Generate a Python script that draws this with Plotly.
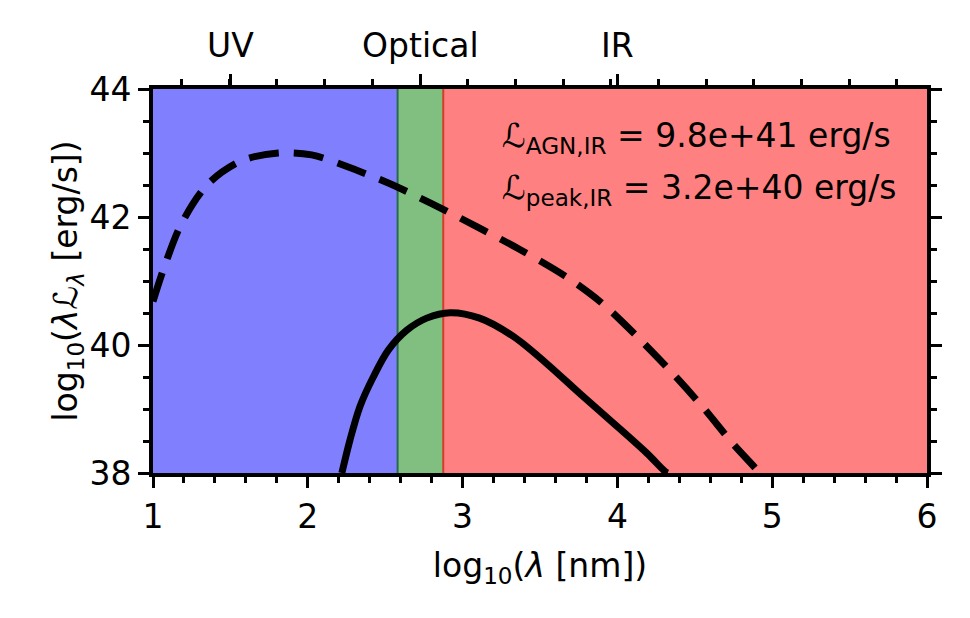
import plotly.graph_objects as go

# Region boundaries (log10 nm)
band_edges = [1.0, 2.58, 2.875, 6.0]
band_colors = ["#8080ff", "#80bf80", "#ff8080"]
edge_line_colors = ["rgb(40,105,80)", "rgb(215,60,40)"]

# Top-axis labels
top_tickvals = [1.5, 2.727, 4.0]
top_ticktext = ["UV", "Optical", "IR"]
top_minor = [1.185, 1.493, 1.801, 2.109, 2.417, 3.033, 3.341, 3.649, 3.957,
             4.265, 4.573, 4.881, 5.189, 5.497, 5.805]

# Dashed curve (total AGN SED)
dashed_x = [1.0, 1.073, 1.185, 1.357, 1.573, 1.81, 2.025, 2.24, 2.52, 2.80,
            3.091, 3.364, 3.66, 3.892, 4.12, 4.34, 4.548, 4.749, 4.90, 4.93]
dashed_y = [40.68, 41.22, 41.90, 42.52, 42.88, 43.00, 42.97, 42.80, 42.53, 42.21,
            41.85, 41.50, 41.08, 40.67, 40.15, 39.60, 39.04, 38.45, 38.05, 37.95]

# Solid curve (peak component)
solid_x = [2.22, 2.273, 2.337, 2.423, 2.52, 2.639, 2.768, 2.919, 3.11, 3.33,
           3.543, 3.758, 3.974, 4.19, 4.31, 4.325]
solid_y = [38.0, 38.52, 39.04, 39.50, 39.92, 40.23, 40.42, 40.505, 40.42, 40.13,
           39.71, 39.24, 38.78, 38.31, 38.02, 38.0]

ann_lines = ["ℒ<sub>AGN,IR</sub> = 9.8e+41 erg/s",
             "ℒ<sub>peak,IR</sub> = 3.2e+40 erg/s"]
ann_y = [43.25, 42.43]

FONT = "DejaVu Sans"
FS = 33

fig = go.Figure()

shapes = []
for i in range(3):
    shapes.append(dict(type="rect", xref="x", yref="y domain",
                       x0=band_edges[i], x1=band_edges[i + 1], y0=0, y1=1,
                       fillcolor=band_colors[i], line=dict(width=0), layer="below"))
for i, c in enumerate(edge_line_colors):
    shapes.append(dict(type="line", xref="x", yref="y domain",
                       x0=band_edges[i + 1], x1=band_edges[i + 1], y0=0, y1=1,
                       line=dict(color=c, width=2), layer="below"))

fig.add_trace(go.Scatter(x=dashed_x, y=dashed_y, mode="lines",
                         line=dict(color="black", width=7, dash="30px,15px",
                                   shape="spline", smoothing=0.9),
                         showlegend=False))
fig.add_trace(go.Scatter(x=solid_x, y=solid_y, mode="lines",
                         line=dict(color="black", width=7,
                                   shape="spline", smoothing=0.9),
                         showlegend=False))
# dummy trace for top axis
fig.add_trace(go.Scatter(x=[1, 6], y=[38, 38], mode="lines", xaxis="x2",
                         line=dict(width=0), hoverinfo="skip", showlegend=False))

annotations = []
for t, yv in zip(ann_lines, ann_y):
    annotations.append(dict(x=3.24, y=yv, xref="x", yref="y", text=t,
                            showarrow=False, xanchor="left", yanchor="middle",
                            font=dict(family=FONT, size=FS, color="black")))

fig.update_layout(
    width=970, height=618,
    margin=dict(l=145, r=51, t=81, b=153),
    paper_bgcolor="white", plot_bgcolor="white",
    shapes=shapes, annotations=annotations,
    font=dict(family=FONT, size=FS, color="black"),
    xaxis=dict(range=[1, 6], tickvals=[1, 2, 3, 4, 5, 6], ticks="outside",
               ticklen=11, tickwidth=3, tickcolor="black",
               showline=True, linewidth=4, linecolor="black", mirror=True,
               showgrid=False, zeroline=False,
               minor=dict(dtick=0.2, ticks="outside", ticklen=6, tickwidth=3,
                          tickcolor="black", showgrid=False),
               tickfont=dict(family=FONT, size=FS),
               title=dict(text="log<sub>10</sub>(<i>λ</i> [nm])",
                          font=dict(family=FONT, size=FS), standoff=20)),
    xaxis2=dict(range=[1, 6], overlaying="x", side="top", anchor="y",
                tickvals=top_tickvals, ticktext=top_ticktext, ticks="outside",
                ticklen=11, tickwidth=3, tickcolor="black",
                ticklabelstandoff=4,
                showline=True, linewidth=4, linecolor="black",
                showgrid=False, zeroline=False,
                minor=dict(tickvals=top_minor, ticks="outside", ticklen=6,
                           tickwidth=3, tickcolor="black", showgrid=False),
                tickfont=dict(family=FONT, size=FS)),
    yaxis=dict(range=[38, 44], tickvals=[38, 40, 42, 44], ticks="outside",
               ticklen=11, tickwidth=3, tickcolor="black",
               showline=True, linewidth=4, linecolor="black", mirror="ticks",
               showgrid=False, zeroline=False,
               minor=dict(dtick=0.5, ticks="outside", ticklen=6, tickwidth=3,
                          tickcolor="black", showgrid=False),
               tickfont=dict(family=FONT, size=FS),
               title=dict(text="log<sub>10</sub>(<i>λ</i>ℒ<sub><i>λ</i></sub> [erg/s])",
                          font=dict(family=FONT, size=FS), standoff=2)),
)

fig.write_html("out.html")
